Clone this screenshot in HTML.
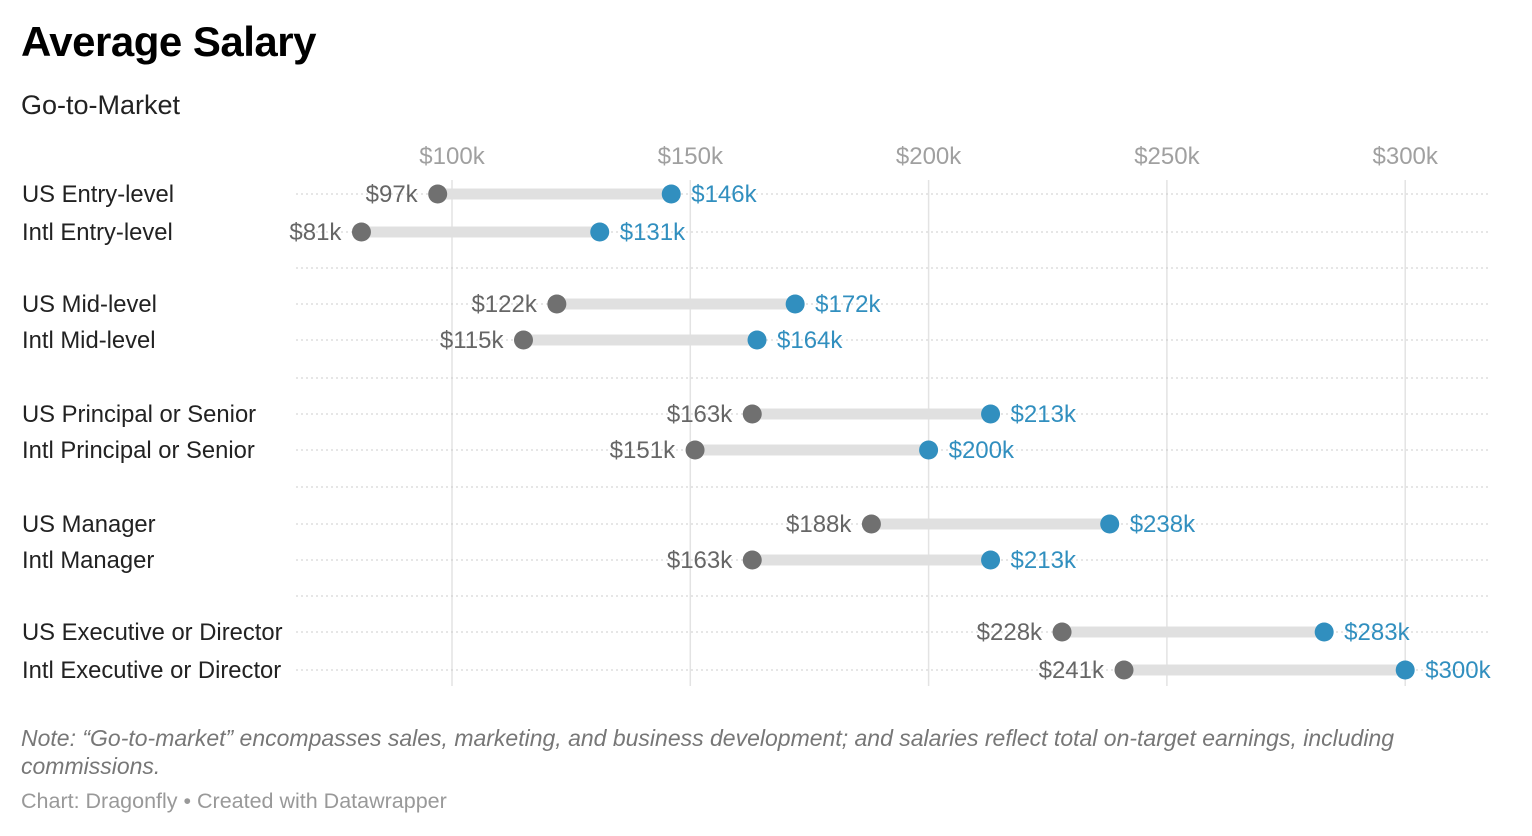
<!DOCTYPE html>
<html><head><meta charset="utf-8"><style>
body{margin:0;width:1532px;height:836px;background:#fff;font-family:"Liberation Sans",sans-serif;overflow:hidden}
.t{position:absolute;left:21px;top:18px;font-size:42px;font-weight:bold;color:#000;letter-spacing:-0.5px}
.s{position:absolute;left:21px;top:90px;font-size:27px;color:#222}
.n{position:absolute;left:21px;top:724px;font-size:23px;font-style:italic;color:#777;width:1420px;line-height:28px}
.c{position:absolute;left:21px;top:789px;font-size:21.5px;color:#999}
svg{position:absolute;left:0;top:0}
</style></head><body>
<div class="t">Average Salary</div>
<div class="s">Go-to-Market</div>
<svg id="ch" width="1532" height="836"></svg>
<div class="n">Note: “Go-to-market” encompasses sales, marketing, and business development; and salaries reflect total on-target earnings, including commissions.</div>
<div class="c">Chart: Dragonfly • Created with Datawrapper</div>
<script>
const categories=["US Entry-level","Intl Entry-level","US Mid-level","Intl Mid-level","US Principal or Senior","Intl Principal or Senior","US Manager","Intl Manager","US Executive or Director","Intl Executive or Director"];
const lowValues=[97,81,122,115,163,151,188,163,228,241];
const highValues=[146,131,172,164,213,200,238,213,283,300];
const ticks=[100,150,200,250,300];
const rowY=[194,232,304,340,414,450,524,560,632,670];
const sepY=[268,378,487,596];
const NS="http://www.w3.org/2000/svg";
const svg=document.getElementById('ch');
const x=v=>452+(v-100)*4.766;
function mk(t,a,p){const e=document.createElementNS(NS,t);for(const k in a)e.setAttribute(k,a[k]);(p||svg).appendChild(e);return e;}
ticks.forEach(t=>{
 const l=mk('line',{x1:x(t),x2:x(t),y1:180,y2:686,stroke:'#e3e3e3','stroke-width':1.5});
 
 
 const tx=mk('text',{x:x(t),y:164,'text-anchor':'middle','font-size':24,fill:'#a0a0a0'});
 tx.textContent='$'+t+'k';
 
 
});
sepY.forEach(y=>{const l=mk('line',{x1:296,x2:1490,y1:y,y2:y,stroke:'#ccc','stroke-width':1,'stroke-dasharray':'2 3'});
 
 });
categories.forEach((c,i)=>{
 const y=rowY[i];
 const g=mk('line',{x1:296,x2:1490,y1:y,y2:y,stroke:'#ccc','stroke-width':1,'stroke-dasharray':'2 3'});
 
 
 const lb=mk('text',{x:22,y:y+8,'font-size':23.8,fill:'#222'});lb.textContent=c;
 
 
 const x1=x(lowValues[i]),x2=x(highValues[i]);
 const b=mk('line',{x1:x1,x2:x2,y1:y,y2:y,stroke:'#e0e0e0','stroke-width':11});
 
 
 const d1=mk('circle',{cx:x1,cy:y,r:9.5,fill:'#707070'});
 
 
 const d2=mk('circle',{cx:x2,cy:y,r:9.5,fill:'#318fbf'});
 
 
 const t1=mk('text',{x:x1-20,y:y+8,'text-anchor':'end','font-size':24,fill:'#666'});t1.textContent='$'+lowValues[i]+'k';
 
 
 const t2=mk('text',{x:x2+20,y:y+8,'font-size':24,fill:'#318fbf'});t2.textContent='$'+highValues[i]+'k';
 
 
});
</script>
</body></html>
